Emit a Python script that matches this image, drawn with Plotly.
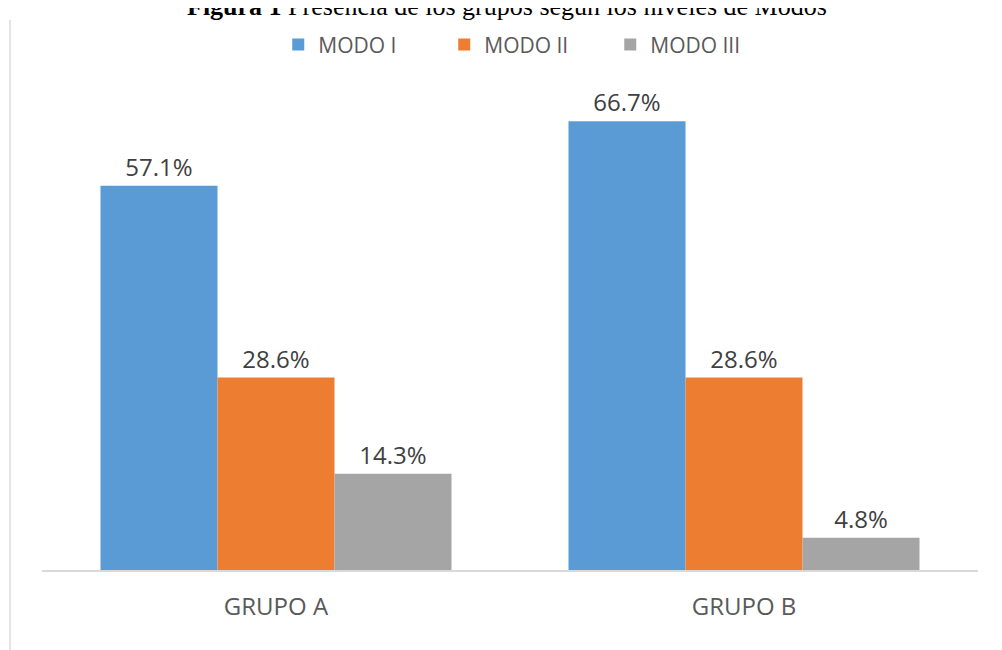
import plotly.graph_objects as go

categories = ["GRUPO A", "GRUPO B"]
series_names = ["MODO I", "MODO II", "MODO III"]
modo_i = [57.1, 66.7]
modo_ii = [28.6, 28.6]
modo_iii = [14.3, 4.8]
colors = ["#5B9BD5", "#ED7D31", "#A5A5A5"]

FONT = "Open Sans, Roboto, sans-serif"

fig = go.Figure()
for name, vals, col in zip(series_names, [modo_i, modo_ii, modo_iii], colors):
    fig.add_trace(go.Bar(
        x=categories, y=vals, name=name,
        marker=dict(color=col, line=dict(width=0)),
        texttemplate="%{y:.1f}%", textposition="outside",
        textfont=dict(size=24, color="#404040", family=FONT),
        cliponaxis=False,
    ))

fig.update_layout(
    width=994, height=642,
    margin=dict(l=34, r=24, t=91, b=80),
    plot_bgcolor="white", paper_bgcolor="white",
    barmode="group", bargap=0.25, bargroupgap=0,
    font=dict(family=FONT, color="#595959"),
    legend=dict(orientation="h", x=0.2524, xanchor="left", y=1.115, yanchor="middle",
                font=dict(size=21, color="#595959", family=FONT),
                entrywidth=121, entrywidthmode="pixels",
                itemwidth=30, traceorder="normal"),
    xaxis=dict(showline=True, linecolor="#D9D9D9", linewidth=1.5, ticks="",
               ticklabelstandoff=14,
               tickfont=dict(size=24, color="#595959", family=FONT)),
    yaxis=dict(range=[0, 70], visible=False, showgrid=False, zeroline=False),
    showlegend=True,
)

fig.add_annotation(
    text="<b>Figura 1</b> Presencia de los grupos según los niveles de Modos",
    xref="paper", yref="paper", x=0.497, y=1.197, xanchor="center", yanchor="middle",
    showarrow=False, font=dict(family="Liberation Serif, Times New Roman, serif", size=26, color="#000000"),
)
fig.add_shape(type="line", xref="paper", yref="paper",
              x0=-0.0342, x1=-0.0342, y0=-0.17, y1=1.168,
              line=dict(color="#D9D9D9", width=1.5))

fig.write_html("out.html")
